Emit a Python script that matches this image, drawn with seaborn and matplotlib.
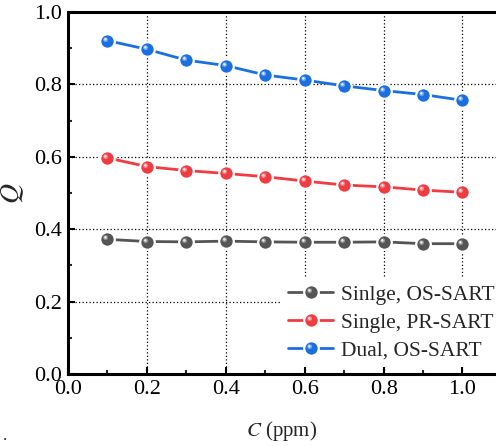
import numpy as np
import pandas as pd
import matplotlib
matplotlib.use("Agg")
import matplotlib.pyplot as plt
from matplotlib.path import Path
from matplotlib.lines import Line2D
from matplotlib.ticker import MultipleLocator
import seaborn as sns

# ---- data ----
conc = [0.1, 0.2, 0.3, 0.4, 0.5, 0.6, 0.7, 0.8, 0.9, 1.0]
single_os = [0.372, 0.366, 0.365, 0.367, 0.365, 0.364, 0.364, 0.365, 0.360, 0.360]
single_pr = [0.597, 0.573, 0.562, 0.554, 0.545, 0.533, 0.522, 0.517, 0.508, 0.502]
dual_os = [0.921, 0.897, 0.867, 0.852, 0.826, 0.812, 0.796, 0.783, 0.772, 0.756]
series_names = ["Sinlge, OS-SART", "Single, PR-SART", "Dual, OS-SART"]
colors = ["#555555", "#ef3b42", "#1b6fdf"]
tick_labels = ["0.0", "0.2", "0.4", "0.6", "0.8", "1.0"]

df = pd.DataFrame({
    "C": conc * 3,
    "Q": single_os + single_pr + dual_os,
    "series": sum([[n] * len(conc) for n in series_names], []),
})

sns.set_theme(style="ticks")
plt.rcParams["font.family"] = ["Liberation Serif", "DejaVu Serif"]
plt.rcParams["mathtext.fontset"] = "stix"

fig = plt.figure(figsize=(4.96, 4.46), dpi=100)
ax = fig.add_axes([68 / 496, 1 - 374 / 446, 1 - 68 / 496, (374 - 12) / 446])

palette = dict(zip(series_names, colors))
MS = 10.5
sns.lineplot(data=df, x="C", y="Q", hue="series", palette=palette, ax=ax,
             marker="o", markersize=MS, markeredgecolor="white", markeredgewidth=1.6,
             linewidth=2.0, legend=False, zorder=3)

# specular highlight marker (offset within marker path)
def hl(r, off):
    theta = np.linspace(0, 2 * np.pi, 40)
    hv = np.column_stack([-off + r * np.cos(theta), off + r * np.sin(theta)])
    verts = np.vstack([[[-1, -1]], [[1, 1]], hv])
    c = [Path.MOVETO, Path.MOVETO, Path.MOVETO] + [Path.LINETO] * (len(hv) - 2) + [Path.CLOSEPOLY]
    return Path(verts, c)

hl_path = hl(0.40, 0.30)
hl_path2 = hl(0.20, 0.34)

for name in series_names:
    sub = df[df["series"] == name]
    ax.plot(sub["C"], sub["Q"], linestyle="none", marker=hl_path, markersize=MS - 1.5,
            markerfacecolor="white", markeredgewidth=0, alpha=0.35, zorder=4)
    ax.plot(sub["C"], sub["Q"], linestyle="none", marker=hl_path2, markersize=MS - 1.5,
            markerfacecolor="white", markeredgewidth=0, alpha=0.85, zorder=5)

ax.set_xlim(0, 1.085)
ax.set_ylim(0, 1.0)
ax.xaxis.set_minor_locator(MultipleLocator(0.1))
ax.yaxis.set_minor_locator(MultipleLocator(0.1))
ax.set_xticks([0.0, 0.2, 0.4, 0.6, 0.8, 1.0])
ax.set_xticklabels(tick_labels)
ax.set_yticks([0.0, 0.2, 0.4, 0.6, 0.8, 1.0])
ax.set_yticklabels(tick_labels)
ax.tick_params(which="major", direction="in", length=5, width=1.5, labelsize=16, pad=4, colors="black")
ax.tick_params(which="minor", direction="in", length=3, width=1.5)
ax.grid(True, which="major", linestyle=(0, (1.0, 1.8)), color="black", linewidth=0.9)

for s in ["left", "bottom", "top"]:
    ax.spines[s].set_linewidth(2.2)
    ax.spines[s].set_color("black")
ax.spines["right"].set_visible(False)

ax.set_xlabel("$C$ (ppm)", fontsize=15, labelpad=15)
ax.set_ylabel("$Q$", fontsize=20, labelpad=6)

handles = []
for name, c in zip(series_names, colors):
    h1 = Line2D([], [], color=c, linewidth=2.0, marker="o", markersize=MS,
                markerfacecolor=c, markeredgecolor="white", markeredgewidth=1.6)
    h2 = Line2D([], [], linestyle="none", marker=hl_path, markersize=MS - 1.5,
                markerfacecolor="white", markeredgewidth=0, alpha=0.35)
    h3 = Line2D([], [], linestyle="none", marker=hl_path2, markersize=MS - 1.5,
                markerfacecolor="white", markeredgewidth=0, alpha=0.85)
    handles.append((h1, h2, h3))
leg = ax.legend(handles, series_names, loc="lower right", bbox_to_anchor=(1.037, -0.01),
                frameon=True, fontsize=15.5, handlelength=2.1, handletextpad=0.35,
                labelspacing=0.36, borderpad=0.3, fancybox=False)
leg.get_frame().set_edgecolor("none")
leg.get_frame().set_facecolor("white")
leg.get_frame().set_alpha(1)
leg.set_zorder(10)

fig.text(3 / 496, 1 - 440 / 446, ".", fontsize=12, ha="left", va="baseline")

fig.savefig("out.png", dpi=100)
